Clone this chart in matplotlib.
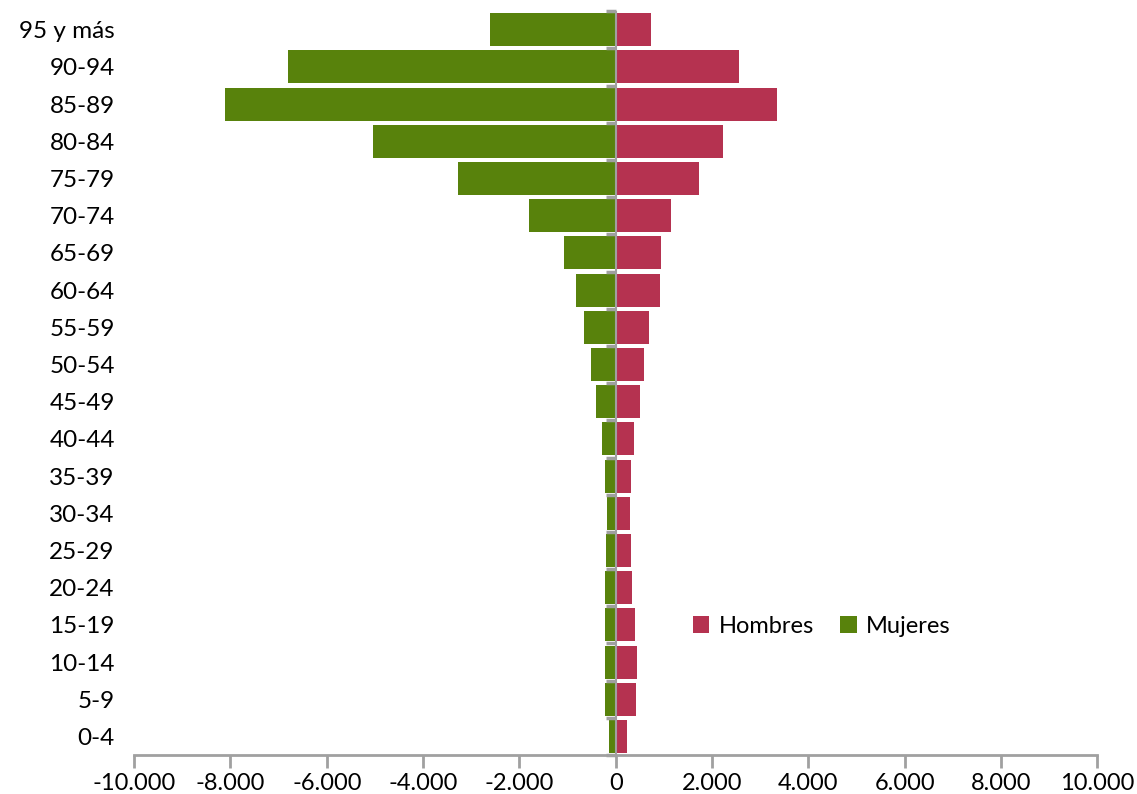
import matplotlib.pyplot as plt
from matplotlib.ticker import FuncFormatter

grupos = ["0-4", "5-9", "10-14", "15-19", "20-24", "25-29", "30-34", "35-39",
          "40-44", "45-49", "50-54", "55-59", "60-64", "65-69", "70-74",
          "75-79", "80-84", "85-89", "90-94", "95 y más"]
hombres = [230, 415, 440, 395, 335, 310, 290, 310, 375, 500, 580, 685, 915,
           935, 1145, 1725, 2225, 3350, 2560, 730]
mujeres = [145, 230, 230, 230, 230, 210, 185, 230, 290, 415, 520, 665, 830,
           1080, 1790, 3285, 5030, 8110, 6800, 2600]

verde = "#58820C"
rojo = "#B53250"
gris = "#A0A0A0"

plt.rcParams['font.family'] = ['Lato', 'DejaVu Sans']

fig = plt.figure(figsize=(11.37, 7.94), dpi=100)
ax = fig.add_axes([0.118, 0.049, 0.847, 0.937])

pos = list(range(len(grupos)))
ax.barh(pos, hombres, height=0.885, color=rojo, label="Hombres", zorder=2)
ax.barh(pos, [-m for m in mujeres], height=0.885, color=verde, label="Mujeres", zorder=2)

# eje central con marcas entre grupos
limites = [p - 0.5 for p in pos] + [len(grupos) - 0.5]
ax.axvline(0, color=gris, lw=1.5, zorder=3)
ax.plot([0] * len(limites), limites, linestyle="none", marker=0,
        markersize=7, mew=2.5, color=gris, zorder=3, clip_on=False)

ax.set_xlim(-10000, 10000)
ax.set_ylim(-0.5, len(grupos) - 0.5)
ax.set_xticks(range(-10000, 10001, 2000))
ax.xaxis.set_major_formatter(FuncFormatter(lambda v, p: f"{int(v):,}".replace(",", ".")))
ax.set_yticks(pos, grupos)

for s in ["top", "right", "left"]:
    ax.spines[s].set_visible(False)
ax.spines["bottom"].set_color(gris)
ax.spines["bottom"].set_linewidth(2)
ax.spines["bottom"].set_zorder(4)
ax.tick_params(axis="x", colors=gris, length=9, width=2, labelsize=17,
               labelcolor="black", pad=4)
ax.tick_params(axis="y", length=0, labelsize=17.5, pad=14)

ax.legend(loc="center left", bbox_to_anchor=(0.558, 0.173), frameon=False,
          ncol=2, fontsize=17, handlelength=0.7, handleheight=0.7,
          handletextpad=0.4, columnspacing=1.1)

fig.savefig("out.png", dpi=100)
